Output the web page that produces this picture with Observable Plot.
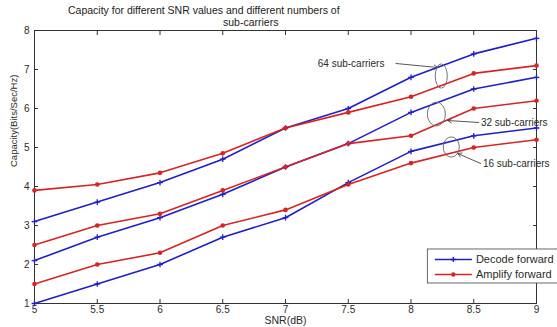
<!DOCTYPE html>
<html><head><meta charset="utf-8">
<script src="https://cdn.jsdelivr.net/npm/d3@7"></script>
<script src="https://cdn.jsdelivr.net/npm/@observablehq/plot@0.6"></script>
<style>
body{margin:0;background:#fff;font-family:"Liberation Sans",Arial,sans-serif;}
#title{height:22px;position:relative;font-size:10.5px;line-height:12px;color:#222;width:557px;}
#title div{position:absolute;white-space:nowrap;}
</style></head><body>
<div id="title"><div style="left:68px;top:4px">Capacity for different SNR values and different numbers of</div><div style="left:223px;top:16px">sub-carriers</div></div>
<div id="chart"></div>
<script>
// ---- data ----
const snr = [5, 5.5, 6, 6.5, 7, 7.5, 8, 8.5, 9];
const df64 = [3.1, 3.6, 4.1, 4.7, 5.5, 6.0, 6.8, 7.4, 7.8];
const af64 = [3.9, 4.05, 4.35, 4.85, 5.5, 5.9, 6.3, 6.9, 7.1];
const df32 = [2.1, 2.7, 3.2, 3.8, 4.5, 5.1, 5.9, 6.5, 6.8];
const af32 = [2.5, 3.0, 3.3, 3.9, 4.5, 5.1, 5.3, 6.0, 6.2];
const df16 = [1.0, 1.5, 2.0, 2.7, 3.2, 4.1, 4.9, 5.3, 5.5];
const af16 = [1.5, 2.0, 2.3, 3.0, 3.4, 4.05, 4.6, 5.0, 5.2];
const schemes = ["Decode forward", "Amplify forward"];
const carrierLabels = ["64 sub-carriers", "32 sub-carriers", "16 sub-carriers"];
const yTicks = [1, 2, 3, 4, 5, 6, 7, 8];

// annotation anchors (data coordinates)
const labelPos = [
  {x: 7.257, y: 7.15}, {x: 8.557, y: 5.64}, {x: 8.573, y: 4.59}
];
const arrows = [
  {x1: 7.88, y1: 7.154, x2: 8.214, y2: 7.05},
  {x1: 8.54, y1: 5.641, x2: 8.293, y2: 5.692},
  {x1: 8.555, y1: 4.59, x2: 8.373, y2: 4.846}
];
const ellipses = [
  {x1: 8.197, x2: 8.293, y1: 6.51, y2: 7.13},
  {x1: 8.134, x2: 8.278, y1: 5.54, y2: 6.15},
  {x1: 8.261, x2: 8.389, y1: 4.74, y2: 5.26}
];
const legendBox = {x1: 8.134, x2: 9.4, y1: 1.513, y2: 2.385};
const legendRows = [
  {scheme: schemes[0], y: 2.128},
  {scheme: schemes[1], y: 1.744}
];
const legendX = {x1: 8.19, x2: 8.485, mark: 8.337, text: 8.517};

// ---- build table ----
const series = [
  {scheme: schemes[0], group: carrierLabels[0], v: df64},
  {scheme: schemes[1], group: carrierLabels[0], v: af64},
  {scheme: schemes[0], group: carrierLabels[1], v: df32},
  {scheme: schemes[1], group: carrierLabels[1], v: af32},
  {scheme: schemes[0], group: carrierLabels[2], v: df16},
  {scheme: schemes[1], group: carrierLabels[2], v: af16}
];
const rows = series.flatMap(s => s.v.map((c, i) => ({snr: snr[i], cap: c, scheme: s.scheme, group: s.group})));
const dfRows = rows.filter(d => d.scheme === schemes[0]);
const afRows = rows.filter(d => d.scheme === schemes[1]);

const blue = "#1f1fc4", red = "#d62424", ink = "#2a2a2a";
const font = "Liberation Sans, Arial, sans-serif";

const chart = Plot.plot({
  width: 557, height: 305,
  marginLeft: 34, marginRight: 21, marginTop: 8, marginBottom: 24,
  style: {fontFamily: font, fontSize: "10px", color: ink, background: "#fff"},
  x: {domain: [5, 9], label: null},
  y: {domain: [1, 8], label: null},
  color: {domain: schemes, range: [blue, red]},
  marks: [
    Plot.frame({stroke: "#333"}),
    Plot.axisX({ticks: snr, tickFormat: d => String(d), tickSize: -4, tickPadding: 6, label: null, stroke: "#333", fontSize: 10}),
    Plot.axisX({anchor: "top", ticks: snr, tickFormat: () => "", tickSize: -4, label: null, stroke: "#333"}),
    Plot.axisY({ticks: yTicks, tickFormat: d => String(d), tickSize: -4, tickPadding: 9, label: null, stroke: "#333", fontSize: 10}),
    Plot.axisY({anchor: "right", ticks: yTicks, tickFormat: () => "", tickSize: -4, label: null, stroke: "#333"}),
    Plot.text(["SNR(dB)"], {frameAnchor: "bottom", dy: 20, fontSize: 10.5, fill: ink}),
    Plot.text(["Capacity(Bits/Sec/Hz)"], {frameAnchor: "left", dx: -21, rotate: -90, fontSize: 9.5, fill: ink}),
    Plot.line(rows, {x: "snr", y: "cap", z: d => d.scheme + d.group, stroke: "scheme", strokeWidth: 1.6}),
    Plot.dot(dfRows, {x: "snr", y: "cap", symbol: "plus", r: 2, stroke: "scheme", strokeWidth: 1.3}),
    Plot.dot(afRows, {x: "snr", y: "cap", r: 2.3, fill: "scheme"}),
    // annotations
    Plot.text(carrierLabels, {x: (d, i) => labelPos[i].x, y: (d, i) => labelPos[i].y, text: d => d, textAnchor: "start", fontSize: 10, fill: ink}),
    Plot.arrow(arrows, {x1: "x1", y1: "y1", x2: "x2", y2: "y2", stroke: "#444", strokeWidth: 0.9, headLength: 7, bend: 0}),
    (index, scales) => {
      const g = d3.create("svg:g");
      g.selectAll("ellipse").data(ellipses).join("ellipse")
        .attr("cx", d => (scales.x(d.x1) + scales.x(d.x2)) / 2)
        .attr("cy", d => (scales.y(d.y1) + scales.y(d.y2)) / 2)
        .attr("rx", d => Math.abs(scales.x(d.x2) - scales.x(d.x1)) / 2)
        .attr("ry", d => Math.abs(scales.y(d.y2) - scales.y(d.y1)) / 2)
        .attr("fill", "none").attr("stroke", "#666").attr("stroke-width", 0.9);
      return g.node();
    },
    // legend
    Plot.rect([legendBox], {x1: "x1", x2: "x2", y1: "y1", y2: "y2", fill: "#fff", stroke: "#444", strokeWidth: 0.8}),
    Plot.link(legendRows, {x1: () => legendX.x1, x2: () => legendX.x2, y1: "y", y2: "y", stroke: "scheme", strokeWidth: 1.6}),
    Plot.dot(legendRows.slice(0, 1), {x: () => legendX.mark, y: "y", symbol: "plus", r: 1.8, stroke: "scheme", strokeWidth: 1.3}),
    Plot.dot(legendRows.slice(1), {x: () => legendX.mark, y: "y", r: 2.2, fill: "scheme"}),
    Plot.text(legendRows, {x: () => legendX.text, y: "y", text: "scheme", textAnchor: "start", fontSize: 11, fill: ink})
  ]
});
document.getElementById("chart").appendChild(chart);
</script>
</body></html>
